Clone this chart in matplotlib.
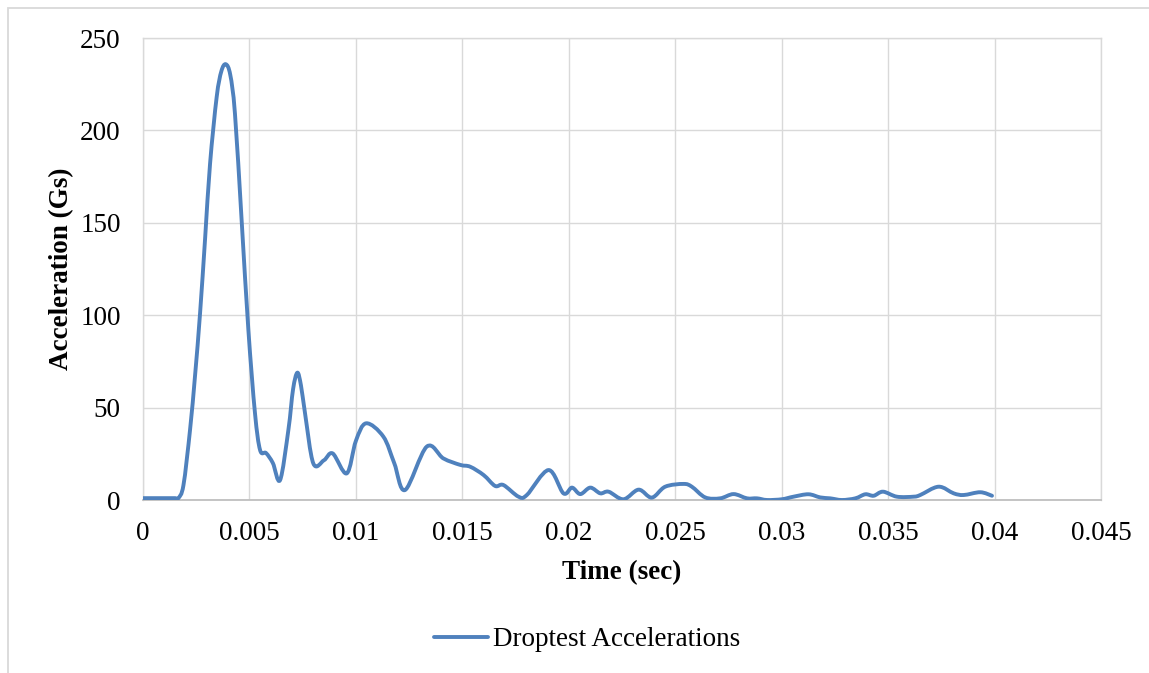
import numpy as np
import matplotlib.pyplot as plt
from matplotlib.patches import Rectangle, PathPatch
from matplotlib.path import Path
from matplotlib.lines import Line2D

# data
time_s = [0.0, 0.0005, 0.001, 0.0015, 0.00166, 0.0019, 0.00221, 0.00245, 0.00268, 0.00292,
          0.00315, 0.00346, 0.00368, 0.00389, 0.0041, 0.00432, 0.00464, 0.00495, 0.00526,
          0.0055, 0.00578, 0.0061, 0.00644, 0.00683, 0.00705, 0.00725, 0.00742, 0.00761,
          0.0080, 0.0085, 0.00891, 0.00957, 0.0100, 0.01048, 0.01129, 0.0118, 0.01231,
          0.01333, 0.01411, 0.0149, 0.01537, 0.016, 0.01654, 0.01693, 0.01764, 0.01803,
          0.01905, 0.01975, 0.02015, 0.02054, 0.02101, 0.02148, 0.02187, 0.02257, 0.02328,
          0.0239, 0.02453, 0.02539, 0.02578, 0.02641, 0.02711, 0.02774, 0.02837, 0.02884,
          0.02931, 0.03001, 0.03056, 0.03126, 0.03181, 0.03228, 0.03283, 0.03346, 0.03393,
          0.03432, 0.03476, 0.03541, 0.0362, 0.03651, 0.03737, 0.03808, 0.03855, 0.03933,
          0.03988]
accel_g = [1.0, 1.0, 1.0, 1.0, 1.0, 8.0, 38.0, 68.0, 101.0, 142.0,
           182.0, 218.0, 232.0, 235.8, 230.0, 209.0, 150.0, 92.0, 47.0,
           27.0, 25.4, 20.0, 10.8, 38.0, 60.0, 68.9, 62.0, 47.0,
           19.8, 21.5, 25.2, 14.4, 32.0, 41.5, 34.3, 20.0, 5.4,
           28.9, 22.5, 19.0, 18.0, 13.5, 7.6, 8.1, 1.8, 2.7,
           16.2, 3.6, 6.7, 3.2, 6.7, 3.6, 4.5, 0.4, 5.6,
           1.3, 7.2, 8.7, 7.2, 1.4, 0.9, 3.2, 0.9, 0.9,
           0.0, 0.4, 1.8, 3.1, 1.4, 0.9, 0.0, 0.9, 3.1,
           2.3, 4.5, 1.8, 1.8, 2.7, 7.2, 3.6, 2.7, 4.2,
           2.3]

xticks = [0, 0.005, 0.01, 0.015, 0.02, 0.025, 0.03, 0.035, 0.04, 0.045]
xtick_labels = ['0', '0.005', '0.01', '0.015', '0.02', '0.025', '0.03', '0.035', '0.04', '0.045']
yticks = [0, 50, 100, 150, 200, 250]

LINE_COLOR = '#4f81bd'
LW = 2.8


def smooth_path(x, y):
    # Excel-style smoothed line: cubic bezier through every point
    x = np.asarray(x, float)
    y = np.asarray(y, float)
    n = len(x)
    verts = [(x[0], y[0])]
    codes = [Path.MOVETO]
    for i in range(n - 1):
        i0 = max(i - 1, 0)
        i3 = min(i + 2, n - 1)
        c1 = (x[i] + (x[i + 1] - x[i0]) / 6, y[i] + (y[i + 1] - y[i0]) / 6)
        c2 = (x[i + 1] - (x[i3] - x[i]) / 6, y[i + 1] - (y[i3] - y[i]) / 6)
        verts += [c1, c2, (x[i + 1], y[i + 1])]
        codes += [Path.CURVE4] * 3
    return Path(verts, codes)


plt.rcParams['font.family'] = ['Liberation Serif', 'DejaVu Serif']

fig = plt.figure(figsize=(11.49, 6.73), dpi=100)
ax = fig.add_axes([143 / 1149, 1 - 500 / 673, (1101 - 143) / 1149, (500 - 38) / 673])

# chart border (only left and top visible in the picture)
fig.patches.append(Rectangle((7.5 / 1149, -0.1), 1.2, 1.1 - 8 / 673,
                             transform=fig.transFigure, fill=False,
                             edgecolor='#d9d9d9', linewidth=1.3))

ax.add_patch(PathPatch(smooth_path(time_s, accel_g), fill=False, edgecolor=LINE_COLOR,
                       linewidth=LW, joinstyle='round', capstyle='round', zorder=3))

ax.set_xlim(0, 0.045)
ax.set_ylim(0, 250)
ax.set_xticks(xticks)
ax.set_xticklabels(xtick_labels)
ax.set_yticks(yticks)
ax.grid(True, color='#d9d9d9', linewidth=1)
ax.set_axisbelow(True)
for s in ['top', 'right', 'left']:
    ax.spines[s].set_color('#d9d9d9')
    ax.spines[s].set_linewidth(1)
ax.spines['bottom'].set_color('#bfbfbf')
ax.spines['bottom'].set_linewidth(1.3)
ax.tick_params(length=0, labelsize=19.5)
ax.tick_params(axis='x', pad=15)
ax.tick_params(axis='y', pad=16)

ax.set_xlabel('Time (sec)', fontsize=19.5, fontweight='bold', labelpad=10)
ax.set_ylabel('Acceleration (Gs)', fontsize=19.5, fontweight='bold', labelpad=4)

handle = Line2D([], [], color=LINE_COLOR, linewidth=LW, solid_capstyle='round')
fig.legend(handles=[handle], labels=['Droptest Accelerations'], loc='center',
           bbox_to_anchor=(587 / 1149, 1 - 640 / 673), frameon=False, fontsize=19.5,
           handlelength=2.0, handletextpad=0.2)

fig.savefig('out.png', dpi=100)
